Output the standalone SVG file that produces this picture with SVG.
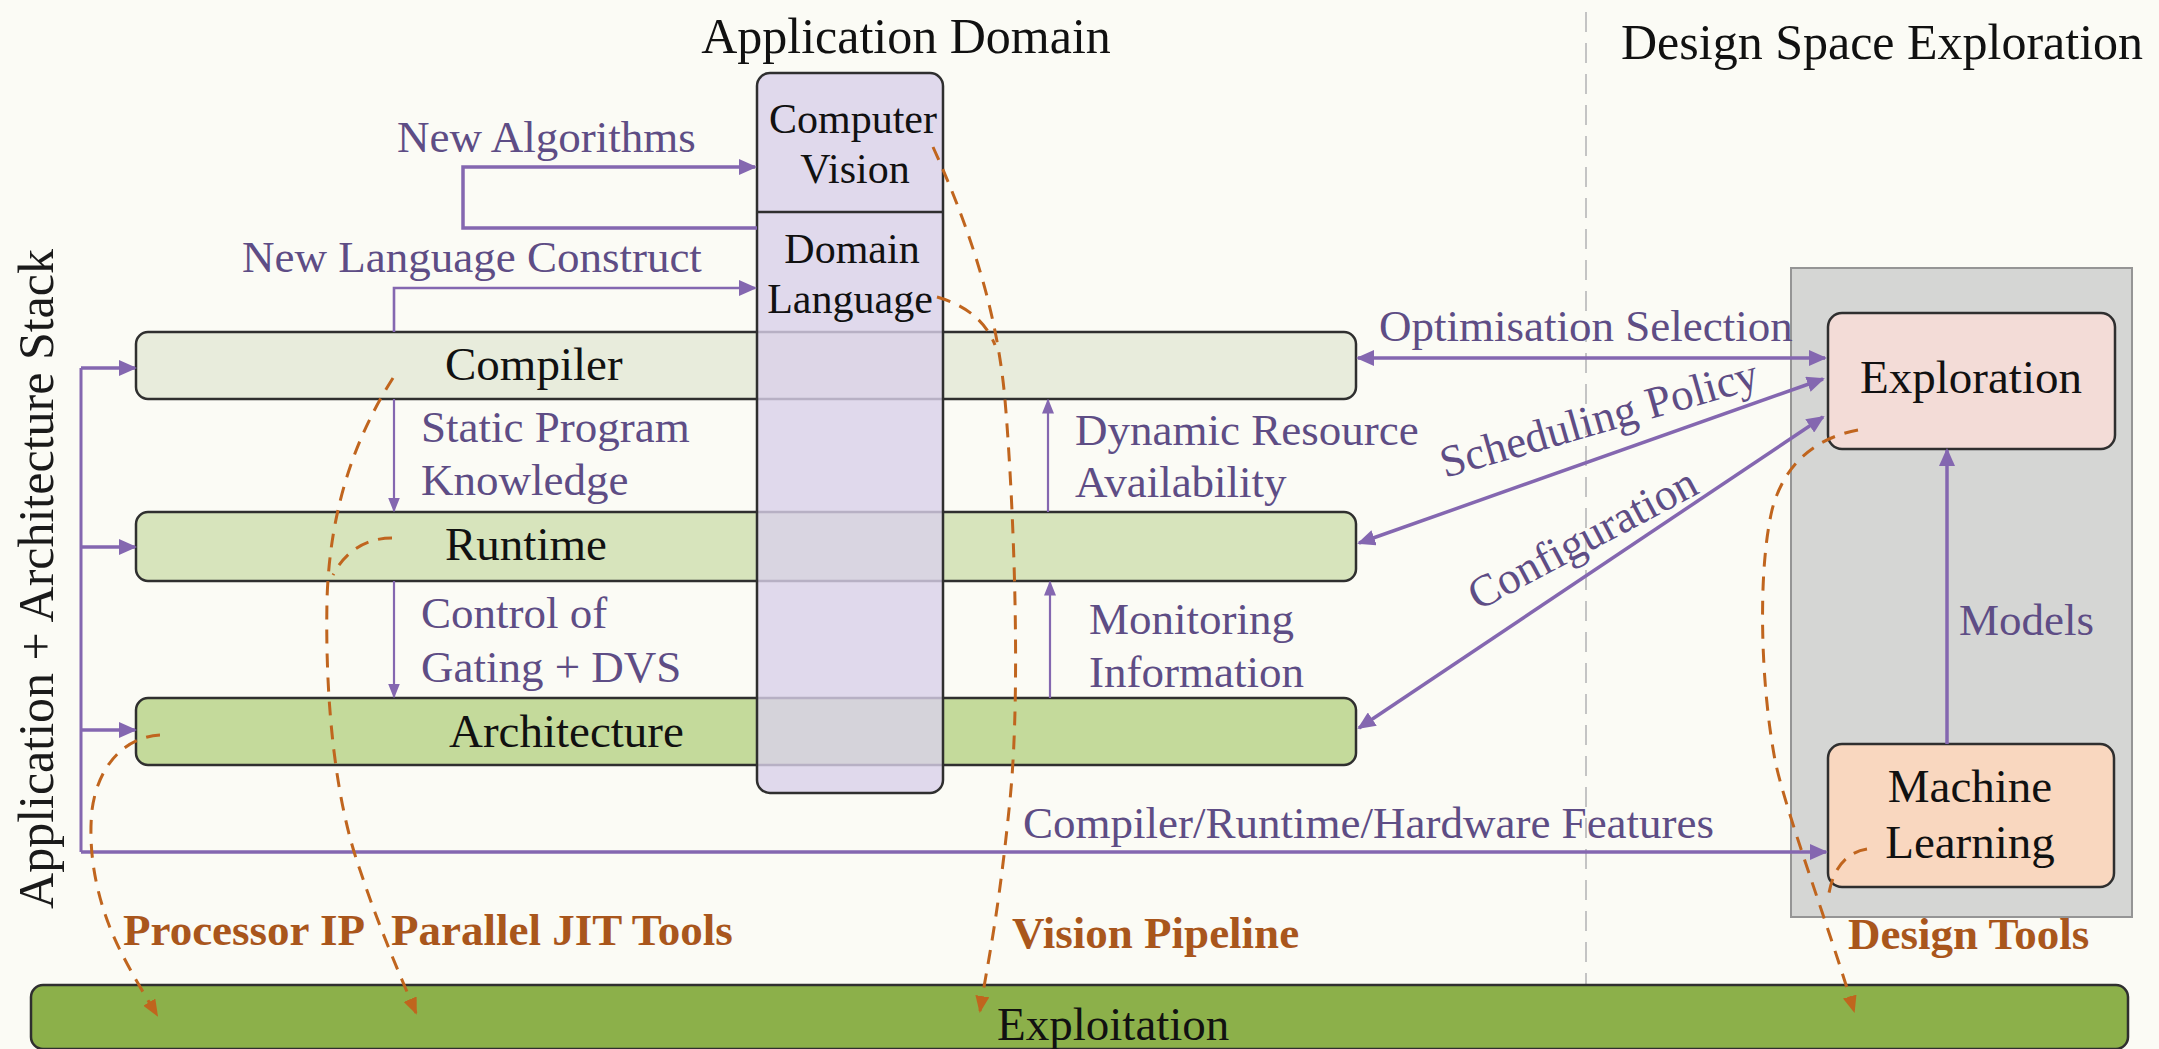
<svg xmlns="http://www.w3.org/2000/svg" width="2159" height="1049" viewBox="0 0 2159 1049">
<style>
text{font-family:"Liberation Serif","Times New Roman",serif}
.lbl{font-size:45px;fill:#5e4d85}
.node{font-size:47px;fill:#111}
.sub{font-size:42px;fill:#111}
.title{font-size:50px;fill:#111}
.ob{font-size:45px;font-weight:bold;fill:#a9561c}
.bar{stroke:#2f2f2f;stroke-width:2.5}
.pl{stroke:#8467b0;fill:none}
.thick{stroke-width:3.5}
.thin{stroke-width:2.2}
.dash{stroke:#c0651e;stroke-width:3;fill:none;stroke-dasharray:14 10}
</style>
<defs>
<marker id="aT" markerUnits="userSpaceOnUse" viewBox="0 0 18 16" markerWidth="18" markerHeight="16" refX="16" refY="8" orient="auto-start-reverse"><path d="M0,0 L18,8 L0,16 z" fill="#8467b0"/></marker>
<marker id="aS" markerUnits="userSpaceOnUse" viewBox="0 0 15 12" markerWidth="15" markerHeight="12" refX="13.5" refY="6" orient="auto-start-reverse"><path d="M0,0 L15,6 L0,12 z" fill="#8467b0"/></marker>
<marker id="aO" markerUnits="userSpaceOnUse" viewBox="0 0 17 14" markerWidth="17" markerHeight="14" refX="15" refY="7" orient="auto"><path d="M0,0 L17,7 L0,14 z" fill="#c0651e"/></marker>
</defs>
<rect x="0" y="0" width="2159" height="1049" fill="#fbfbf5"/>
<line x1="1586" y1="12" x2="1586" y2="985" stroke="#c4c4c4" stroke-width="2" stroke-dasharray="20 11"/>

<text class="title" x="906" y="53" text-anchor="middle">Application Domain</text>
<text class="title" x="1621" y="59">Design Space Exploration</text>
<text x="0" y="0" font-size="50" fill="#1a1a1a" text-anchor="middle" transform="translate(53,579) rotate(-90)">Application + Architecture Stack</text>

<g id="dse-container"><rect x="1791" y="268" width="341" height="649" fill="#d5d6d4" stroke="#959595" stroke-width="2"/></g>

<g id="compiler"><rect class="bar" x="136" y="332" width="1220" height="67" rx="12" fill="#e8ecdc"/><text class="node" x="445" y="380">Compiler</text></g>
<g id="runtime"><rect class="bar" x="136" y="512" width="1220" height="69" rx="12" fill="#d7e4bc"/><text class="node" x="445" y="560">Runtime</text></g>
<g id="architecture"><rect class="bar" x="136" y="698" width="1220" height="67" rx="12" fill="#c4da9b"/><text class="node" x="449" y="747">Architecture</text></g>
<g id="exploitation"><rect class="bar" x="31" y="985" width="2097" height="64" rx="12" fill="#8cb04a"/><text class="node" x="997" y="1040">Exploitation</text></g>

<g id="app-domain">
<rect x="757" y="73" width="186" height="720" rx="13" fill="#d9d1ea" fill-opacity="0.8" stroke="#2f2f2f" stroke-width="2.5"/>
<line x1="757" y1="212" x2="943" y2="212" stroke="#2f2f2f" stroke-width="2.5"/>
<text class="sub" x="853" y="133" text-anchor="middle">Computer</text>
<text class="sub" x="855" y="183" text-anchor="middle">Vision</text>
<text class="sub" x="852" y="263" text-anchor="middle">Domain</text>
<text class="sub" x="850" y="313" text-anchor="middle">Language</text>
</g>

<g id="exploration"><rect x="1828" y="313" width="287" height="136" rx="14" fill="#f3dcd7" stroke="#2f2f2f" stroke-width="2.5"/><text class="node" x="1971" y="393" text-anchor="middle">Exploration</text></g>
<g id="machine-learning"><rect x="1828" y="744" width="286" height="143" rx="14" fill="#f9d7bf" stroke="#2f2f2f" stroke-width="2.5"/><text class="node" x="1970" y="802" text-anchor="middle">Machine</text><text class="node" x="1970" y="858" text-anchor="middle">Learning</text></g>

<g id="connectors">
<path class="pl thick" d="M757,228 H463 V167 H755" marker-end="url(#aT)"/>
<path class="pl" stroke-width="2.6" d="M394,332 V288 H755" marker-end="url(#aT)"/>
<path class="pl thin" d="M394,399 V511" marker-end="url(#aS)"/>
<path class="pl thin" d="M394,581 V697" marker-end="url(#aS)"/>
<path class="pl thin" d="M1048,512 V400" marker-end="url(#aS)"/>
<path class="pl thin" d="M1050,698 V582" marker-end="url(#aS)"/>
<path class="pl" stroke-width="3" d="M81,368 V852"/>
<path class="pl thick" d="M81,368 H135" marker-end="url(#aT)"/>
<path class="pl thick" d="M81,547 H135" marker-end="url(#aT)"/>
<path class="pl thick" d="M81,730 H135" marker-end="url(#aT)"/>
<path class="pl thick" d="M81,852 H1826" marker-end="url(#aT)"/>
<path class="pl thick" d="M1358,358 H1825" marker-start="url(#aT)" marker-end="url(#aT)"/>
<path class="pl thick" d="M1359,543 L1823,379" marker-start="url(#aT)" marker-end="url(#aT)"/>
<path class="pl thick" d="M1359,728 L1823,417" marker-start="url(#aT)" marker-end="url(#aT)"/>
<path class="pl thick" d="M1947,744 V450" marker-end="url(#aT)"/>

<path class="dash" d="M933,147 C975,240 998,320 1005,400 S1022,680 1010,800 S988,960 980,1011" marker-end="url(#aO)"/>
<path class="dash" d="M937,297 C965,305 985,320 995,345"/>
<path class="dash" d="M393,378 C360,430 330,500 327,600 C325,700 335,800 360,870 C380,930 400,975 416,1013" marker-end="url(#aO)"/>
<path class="dash" d="M392,538 C365,538 345,552 333,575"/>
<path class="dash" d="M160,735 C125,737 98,765 92,810 C87,860 100,910 120,950 C135,980 148,1000 157,1015" marker-end="url(#aO)"/>
<path class="dash" d="M1858,430 C1820,437 1785,460 1772,510 C1758,570 1760,680 1775,760 C1785,810 1830,930 1854,1011" marker-end="url(#aO)"/>
<path class="dash" d="M1867,849 C1848,852 1834,866 1829,893"/>
</g>

<g id="labels">
<text class="lbl" x="397" y="152">New Algorithms</text>
<text class="lbl" x="242" y="272">New Language Construct</text>
<text class="lbl" x="421" y="442">Static Program</text>
<text class="lbl" x="421" y="495">Knowledge</text>
<text class="lbl" x="421" y="628">Control of</text>
<text class="lbl" x="421" y="682">Gating + DVS</text>
<text class="lbl" x="1075" y="445">Dynamic Resource</text>
<text class="lbl" x="1075" y="497">Availability</text>
<text class="lbl" x="1089" y="634">Monitoring</text>
<text class="lbl" x="1089" y="687">Information</text>
<text class="lbl" x="1379" y="341">Optimisation Selection</text>
<text class="lbl" transform="translate(1445,478) rotate(-16)">Scheduling Policy</text>
<text class="lbl" transform="translate(1478,611) rotate(-28)">Configuration</text>
<text class="lbl" x="1023" y="838">Compiler/Runtime/Hardware Features</text>
<text class="lbl" x="1959" y="635">Models</text>
<text class="ob" x="123" y="945">Processor IP</text>
<text class="ob" x="391" y="945">Parallel JIT Tools</text>
<text class="ob" x="1012" y="948">Vision Pipeline</text>
<text class="ob" x="1848" y="949">Design Tools</text>
</g>
</svg>
